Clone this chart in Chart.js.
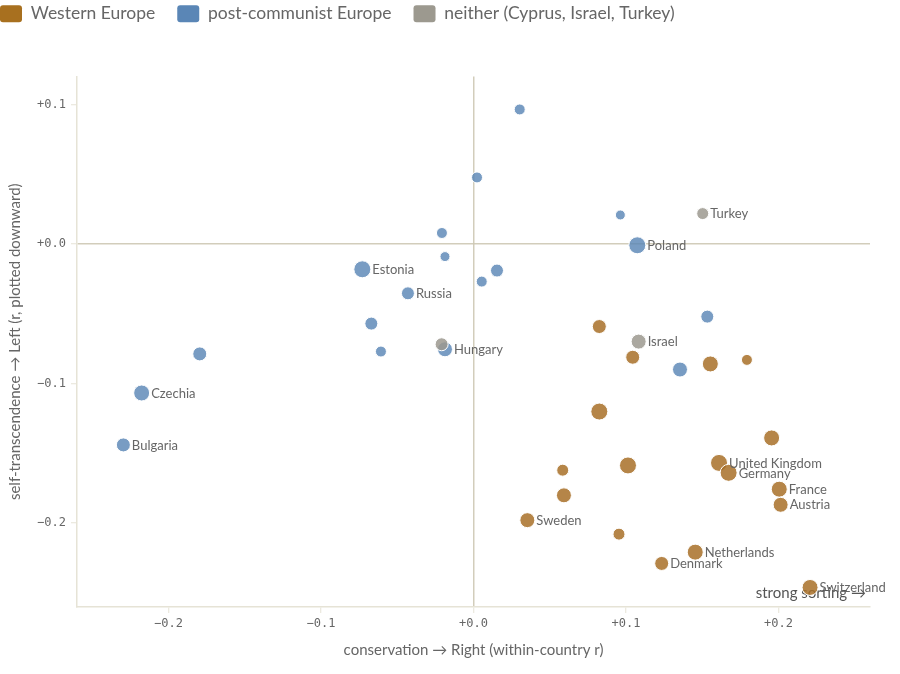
<!DOCTYPE html>
<html>
<head>
<meta charset="utf-8">
<script src="https://cdn.jsdelivr.net/npm/chart.js@4.4.1/dist/chart.umd.min.js"></script>
<style>
html,body{margin:0;padding:0;background:#fff;overflow:hidden;}
#wrap{position:relative;width:900px;height:674px;overflow:hidden;}
#c{position:absolute;left:-44px;top:-17px;}
</style>
</head>
<body>
<div id="wrap"><canvas id="c" width="944" height="691"></canvas></div>
<script>
var groups = ['Western Europe', 'post-communist Europe', 'neither (Cyprus, Israel, Turkey)'];
var legendColors = ['#a8701f', '#5a86b6', '#9c998f'];
var pointColors = ['rgba(168,112,40,0.85)', 'rgba(90,134,182,0.82)', 'rgba(156,153,143,0.85)'];

var westNames = ['', '', '', '', '', '', '', '', 'United Kingdom', 'Germany', 'France', 'Austria', '', 'Sweden', '', 'Netherlands', 'Denmark', 'Switzerland'];
var westX = [0.0825, 0.1044, 0.1553, 0.1793, 0.0825, 0.1955, 0.0585, 0.1013, 0.1610, 0.1673, 0.2005, 0.2014, 0.0593, 0.0353, 0.0954, 0.1454, 0.1234, 0.2207];
var westY = [-0.0591, -0.0811, -0.0859, -0.0830, -0.1200, -0.1389, -0.1620, -0.1586, -0.1568, -0.1639, -0.1756, -0.1868, -0.1800, -0.1978, -0.2078, -0.2207, -0.2288, -0.2460];
var westR = [7, 7, 8, 5.5, 8.5, 8, 6, 8.5, 8.5, 8.5, 8, 7.5, 7.5, 7.5, 6, 8, 7, 8];

var eastNames = ['', '', '', '', 'Poland', '', 'Estonia', '', '', 'Russia', '', '', 'Hungary', '', '', '', 'Czechia', 'Bulgaria'];
var eastX = [0.0303, 0.0023, 0.0963, -0.0207, 0.1074, -0.0187, -0.0729, 0.0154, 0.0054, -0.0430, -0.0670, -0.0607, -0.0187, 0.1533, 0.1354, -0.1795, -0.2176, -0.2296];
var eastY = [0.0964, 0.0477, 0.0208, 0.0079, -0.0009, -0.0090, -0.0181, -0.0190, -0.0269, -0.0353, -0.0570, -0.0770, -0.0754, -0.0520, -0.0899, -0.0787, -0.1067, -0.1439];
var eastR = [5.5, 5.5, 5, 5.5, 8.5, 5, 8.5, 6.5, 5.5, 6.5, 6.5, 5.5, 7.5, 6.5, 7.5, 7, 8, 7];

var otherNames = ['Turkey', 'Israel', ''];
var otherX = [0.1503, 0.1083, -0.0209];
var otherY = [0.0218, -0.0699, -0.0718];
var otherR = [6, 7.5, 6.5];

var xTicks = [-0.2, -0.1, 0, 0.1, 0.2];
var yTicks = [-0.2, -0.1, 0, 0.1];

function pts(xs, ys) {
  var out = [];
  for (var i = 0; i < xs.length; i++) out.push({x: xs[i], y: ys[i]});
  return out;
}
function fmt(v) {
  return (v < 0 ? '\u2212' : '+') + Math.abs(v).toFixed(1);
}

var zeroColor = 'rgba(205,200,180,0.9)';
var axisColor = '#e6e3d6';

// push the plot down below the legend
var legendSpace = {
  id: 'legendSpace',
  beforeInit: function(chart) {
    var fit = chart.legend.fit;
    chart.legend.fit = function() { fit.call(this); this.height += 44; };
  }
};

var pointLabels = {
  id: 'pointLabels',
  beforeDatasetsDraw: function(chart) {
    var a = chart.chartArea, ctx = chart.ctx;
    ctx.save();
    ctx.font = '15px Lato';
    ctx.fillStyle = '#555';
    ctx.textAlign = 'right';
    ctx.textBaseline = 'middle';
    ctx.fillText('strong sorting \u2192', a.right - 4, a.bottom - 14);
    ctx.restore();
  },
  afterDatasetsDraw: function(chart) {
    var ctx = chart.ctx;
    ctx.save();
    ctx.font = '13px Lato';
    ctx.fillStyle = '#666';
    ctx.textAlign = 'left';
    ctx.textBaseline = 'middle';
    chart.data.datasets.forEach(function(ds, i) {
      var meta = chart.getDatasetMeta(i);
      meta.data.forEach(function(el, j) {
        var name = ds.names[j];
        if (!name) return;
        ctx.fillText(name, el.x + ds.pointRadius[j] + 1.5, el.y + 0.5);
      });
    });
    ctx.restore();
  }
};

var ctx = document.getElementById('c');
var chart = new Chart(ctx, {
  type: 'scatter',
  data: {
    datasets: [
      {label: groups[0], names: westNames, data: pts(westX, westY), pointRadius: westR, order: 1,
       backgroundColor: pointColors[0], borderColor: '#fff', borderWidth: 1},
      {label: groups[1], names: eastNames, data: pts(eastX, eastY), pointRadius: eastR, order: 2,
       backgroundColor: pointColors[1], borderColor: '#fff', borderWidth: 1},
      {label: groups[2], names: otherNames, data: pts(otherX, otherY), pointRadius: otherR, order: 0,
       backgroundColor: pointColors[2], borderColor: '#fff', borderWidth: 1}
    ]
  },
  options: {
    responsive: false,
    animation: false,
    devicePixelRatio: 1,
    layout: {padding: {left: 22, right: 30, top: 0, bottom: 0}},
    plugins: {
      tooltip: {enabled: false},
      legend: {
        position: 'top',
        align: 'start',
        labels: {
          boxWidth: 22,
          boxHeight: 17,
          padding: 22,
          useBorderRadius: true,
          borderRadius: 3,
          font: {family: 'Lato', size: 17.5},
          color: '#666',
          sort: function(a, b) { return a.datasetIndex - b.datasetIndex; },
          generateLabels: function(chart) {
            return groups.map(function(g, i) {
              return {text: g, fillStyle: legendColors[i], strokeStyle: legendColors[i], lineWidth: 0,
                      datasetIndex: i, fontColor: '#666', borderRadius: 3, hidden: false};
            });
          }
        }
      }
    },
    scales: {
      x: {
        type: 'linear',
        min: -0.26,
        max: 0.26,
        afterFit: function(s) { s.height = 67; },
        afterBuildTicks: function(s) { s.ticks = xTicks.map(function(v) { return {value: v}; }); },
        border: {color: axisColor, width: 1.5},
        grid: {
          color: function(c) { return c.tick && c.tick.value === 0 ? zeroColor : 'rgba(0,0,0,0)'; },
          lineWidth: 1.5,
          tickColor: axisColor,
          tickLength: 6,
          tickWidth: 1
        },
        ticks: {
          autoSkip: false,
          maxRotation: 0,
          padding: 4,
          font: {family: 'DejaVu Sans Mono', size: 12},
          color: '#666',
          callback: function(v) { return fmt(v); }
        },
        title: {
          display: true,
          text: 'conservation \u2192 Right (within-country r)',
          font: {family: 'Lato', size: 15},
          color: '#666',
          padding: {top: 4, bottom: 15}
        }
      },
      y: {
        type: 'linear',
        min: -0.26,
        max: 0.12,
        afterFit: function(s) { s.width = 99; },
        afterBuildTicks: function(s) { s.ticks = yTicks.map(function(v) { return {value: v}; }); },
        border: {color: axisColor, width: 1.5},
        grid: {
          color: function(c) { return c.tick && c.tick.value === 0 ? zeroColor : 'rgba(0,0,0,0)'; },
          lineWidth: 1.5,
          tickColor: axisColor,
          tickLength: 6,
          tickWidth: 1
        },
        ticks: {
          padding: 5,
          font: {family: 'DejaVu Sans Mono', size: 12},
          color: '#666',
          callback: function(v) { return fmt(v); }
        },
        title: {
          display: true,
          text: 'self-transcendence \u2192 Left (r, plotted downward)',
          font: {family: 'Lato', size: 15},
          color: '#666',
          padding: {top: 28, bottom: 4}
        }
      }
    }
  },
  plugins: [legendSpace, pointLabels]
});
</script>
</body>
</html>
